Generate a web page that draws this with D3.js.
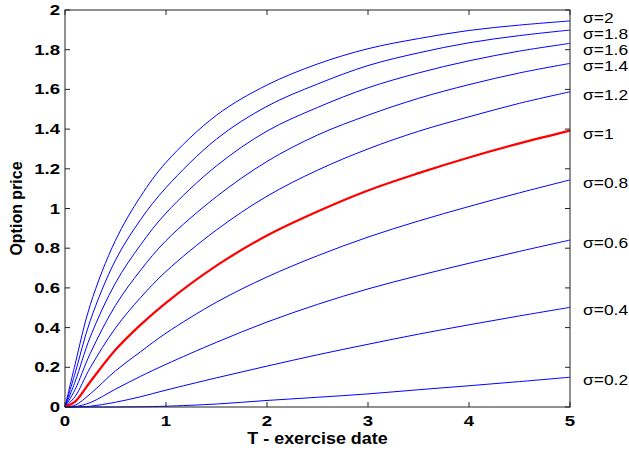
<!DOCTYPE html>
<html>
<head>
<meta charset="utf-8">
<script src="https://cdn.jsdelivr.net/npm/d3@7"></script>
<style>
  body { margin: 0; background: #fff; }
  text { font-family: Arial, "Liberation Sans", sans-serif; }
</style>
</head>
<body>
<svg width="629" height="452"></svg>
<script>
// exercise dates (x) and option price for each volatility (y)
const T = [0, 0.1, 0.25, 0.5, 0.75, 1, 1.5, 2, 2.5, 3, 3.5, 4, 4.5, 5];

const sigmas = [0.2, 0.4, 0.6, 0.8, 1, 1.2, 1.4, 1.6, 1.8, 2];

const price02 = [0, 0, 0, 0, 0.001, 0.004, 0.015, 0.033, 0.049, 0.066, 0.087, 0.107, 0.128, 0.150];
const price04 = [0, 0, 0.004, 0.024, 0.052, 0.085, 0.147, 0.206, 0.263, 0.316, 0.367, 0.414, 0.459, 0.502];
const price06 = [0, 0.002, 0.022, 0.090, 0.155, 0.215, 0.326, 0.428, 0.517, 0.595, 0.662, 0.724, 0.784, 0.841];
const price08 = [0, 0.009, 0.066, 0.182, 0.279, 0.372, 0.528, 0.655, 0.762, 0.856, 0.937, 1.010, 1.079, 1.144];
const price10 = [0, 0.027, 0.127, 0.288, 0.415, 0.525, 0.712, 0.864, 0.985, 1.091, 1.178, 1.257, 1.328, 1.392];
const price12 = [0, 0.053, 0.198, 0.398, 0.552, 0.683, 0.892, 1.062, 1.193, 1.300, 1.389, 1.462, 1.530, 1.588];
const price14 = [0, 0.088, 0.270, 0.512, 0.690, 0.838, 1.060, 1.237, 1.370, 1.470, 1.555, 1.624, 1.683, 1.731];
const price16 = [0, 0.127, 0.353, 0.625, 0.818, 0.977, 1.215, 1.390, 1.509, 1.608, 1.683, 1.744, 1.793, 1.832];
const price18 = [0, 0.170, 0.435, 0.740, 0.945, 1.105, 1.350, 1.515, 1.627, 1.720, 1.784, 1.835, 1.871, 1.899];
const price20 = [0, 0.215, 0.515, 0.840, 1.062, 1.232, 1.470, 1.622, 1.728, 1.805, 1.856, 1.897, 1.924, 1.945];

const prices = [price02, price04, price06, price08, price10, price12, price14, price16, price18, price20];

const xTicks = [0, 1, 2, 3, 4, 5];
const yTicks = [0, 0.2, 0.4, 0.6, 0.8, 1, 1.2, 1.4, 1.6, 1.8, 2];

const svg = d3.select('svg');

const margin = { left: 65, right: 59, top: 10, bottom: 45 };
const width = +svg.attr('width');
const height = +svg.attr('height');

const x = d3.scaleLinear()
  .domain([0, 5])
  .range([margin.left, width - margin.right]);

const y = d3.scaleLinear()
  .domain([0, 2])
  .range([height - margin.bottom, margin.top]);

// text in the reference is a little wider than tall
const stretch = 1.2;
const fmt = d3.format('~g');

// curves
const series = sigmas.map((s, i) => ({
  sigma: s,
  points: T.map((t, j) => [t, prices[i][j]])
}));

const line = d3.line()
  .x(d => x(d[0]))
  .y(d => y(d[1]))
  .curve(d3.curveCatmullRom.alpha(0.5));

svg.append('g')
  .selectAll('path')
  .data(series)
  .enter()
    .append('path')
    .attr('d', d => line(d.points))
    .attr('fill', 'none')
    .attr('stroke', d => d.sigma === 1 ? '#ff0000' : '#0000ff')
    .attr('stroke-width', d => d.sigma === 1 ? 2.2 : 1)
  .sort((a, b) => (a.sigma === 1) - (b.sigma === 1));

// box with inward ticks on all four sides
const x0 = x(0), x1 = x(5), y0 = y(0), y1 = y(2);
const tickLen = 5;
const frame = svg.append('g')
  .attr('stroke', '#222')
  .attr('stroke-width', 1)
  .attr('fill', 'none');

frame.append('rect')
  .attr('x', x0).attr('y', y1)
  .attr('width', x1 - x0).attr('height', y0 - y1);

xTicks.forEach(t => {
  frame.append('line').attr('x1', x(t)).attr('x2', x(t)).attr('y1', y0).attr('y2', y0 - tickLen);
  frame.append('line').attr('x1', x(t)).attr('x2', x(t)).attr('y1', y1).attr('y2', y1 + tickLen);
});
yTicks.forEach(v => {
  frame.append('line').attr('x1', x0).attr('x2', x0 + tickLen).attr('y1', y(v)).attr('y2', y(v));
  frame.append('line').attr('x1', x1).attr('x2', x1 - tickLen).attr('y1', y(v)).attr('y2', y(v));
});

// tick labels
svg.append('g')
  .selectAll('text')
  .data(xTicks)
  .enter()
    .append('text')
    .attr('transform', d => `translate(${x(d)},${y0 + 19}) scale(${stretch},1)`)
    .attr('text-anchor', 'middle')
    .attr('font-size', 15.5)
    .attr('font-weight', 'bold')
    .text(d => fmt(d));

svg.append('g')
  .selectAll('text')
  .data(yTicks)
  .enter()
    .append('text')
    .attr('transform', d => `translate(${x0 - 5},${y(d) + 5}) scale(${stretch},1)`)
    .attr('text-anchor', 'end')
    .attr('font-size', 15.5)
    .attr('font-weight', 'bold')
    .text(d => fmt(d));

// axis titles
svg.append('text')
  .attr('transform', `translate(${(x0 + x1) / 2},${y0 + 37}) scale(1.12,1)`)
  .attr('text-anchor', 'middle')
  .attr('font-size', 16)
  .attr('font-weight', 'bold')
  .text('T - exercise date');

svg.append('text')
  .attr('transform', `translate(22,${(y0 + y1) / 2}) rotate(-90)`)
  .attr('text-anchor', 'middle')
  .attr('font-size', 16)
  .attr('font-weight', 'bold')
  .text('Option price');

// sigma labels at the right end of each curve, pushed apart where crowded
const labels = series.map(d => ({ sigma: d.sigma, ly: y(d.points[d.points.length - 1][1]) + 3 }))
  .sort((a, b) => a.ly - b.ly);
const gap = 16;
for (let k = 0; k < 20; k++) {
  for (let i = 1; i < labels.length; i++) {
    const overlap = gap - (labels[i].ly - labels[i - 1].ly);
    if (overlap > 0) {
      labels[i - 1].ly -= overlap / 2;
      labels[i].ly += overlap / 2;
    }
  }
}

svg.append('g')
  .selectAll('text')
  .data(labels)
  .enter()
    .append('text')
    .attr('transform', d => `translate(${x1 + 13},${d.ly + 5}) scale(${stretch},1)`)
    .attr('font-size', 14.5)
    .text(d => 'σ=' + fmt(d.sigma));
</script>
</body>
</html>
